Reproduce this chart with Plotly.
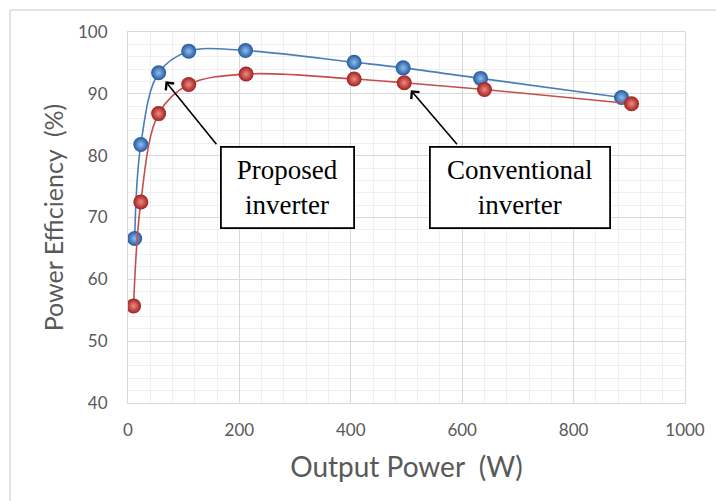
import plotly.graph_objects as go

# Data
proposed_power = [12, 23, 55, 109, 211, 406, 494, 633, 886]
proposed_eff = [66.6, 81.8, 93.4, 96.9, 97.0, 95.1, 94.2, 92.5, 89.4]

conventional_power = [10, 23, 55, 109, 212, 406, 496, 640, 904]
conventional_eff = [55.7, 72.5, 86.8, 91.5, 93.2, 92.4, 91.8, 90.7, 88.4]

x_ticks = [0, 200, 400, 600, 800, 1000]
y_ticks = [40, 50, 60, 70, 80, 90, 100]

label_proposed = "Proposed<br>inverter"
label_conventional = "Conventional<br>inverter"

fig = go.Figure()

fig.add_trace(go.Scatter(
    x=proposed_power, y=proposed_eff, mode="lines+markers", name="Proposed",
    line=dict(color="#4a7ebb", width=1.6, shape="spline", smoothing=1.0),
    marker=dict(size=15, color="#23589e", line=dict(width=0),
                gradient=dict(type="radial", color="#8fbdf0")),
))
fig.add_trace(go.Scatter(
    x=conventional_power, y=conventional_eff, mode="lines+markers", name="Conventional",
    line=dict(color="#c0504d", width=1.6, shape="spline", smoothing=1.0),
    marker=dict(size=15, color="#9e1f1c", line=dict(width=0),
                gradient=dict(type="radial", color="#f08a86")),
))

serif = "Liberation Serif, Times New Roman, serif"

# Arrows pointing at data points
fig.add_annotation(x=proposed_power[2], y=proposed_eff[2], text="", showarrow=True,
                   ax=59, ay=73, arrowhead=4, arrowsize=1.3, arrowwidth=1.6,
                   arrowcolor="#000000", standoff=11)
fig.add_annotation(x=conventional_power[6], y=conventional_eff[6], text="", showarrow=True,
                   ax=54, ay=63, arrowhead=4, arrowsize=1.3, arrowwidth=1.6,
                   arrowcolor="#000000", standoff=10)

# Label boxes
W, H = 557, 371
def px_to_paper(px, py):
    return (px - 128) / W, 1 - (py - 32) / H

bx, by = px_to_paper(287, 187)
fig.add_annotation(x=bx, y=by, xref="paper", yref="paper", text=label_proposed,
                   showarrow=False, font=dict(family=serif, size=27, color="#000000"),
                   bgcolor="#ffffff", bordercolor="#000000", borderwidth=1.8,
                   borderpad=0, width=131, height=79, xanchor="center", yanchor="middle")
bx, by = px_to_paper(519.5, 187)
fig.add_annotation(x=bx, y=by, xref="paper", yref="paper", text=label_conventional,
                   showarrow=False, font=dict(family=serif, size=27, color="#000000"),
                   bgcolor="#ffffff", bordercolor="#000000", borderwidth=1.8,
                   borderpad=0, width=178, height=79, xanchor="center", yanchor="middle")

# Chart-area border (top and left edges)
x0, y0 = px_to_paper(10, 10)
x1, y1 = px_to_paper(716, 501)
fig.add_shape(type="line", xref="paper", yref="paper", x0=x0, y0=y0, x1=x1, y1=y0,
              line=dict(color="#d9d9d9", width=1.5))
fig.add_shape(type="line", xref="paper", yref="paper", x0=x0, y0=y0, x1=x0, y1=y1,
              line=dict(color="#d9d9d9", width=1.5))

tick_font = dict(family="Lato, Open Sans, sans-serif", size=17, color="#595959")
xtitle_font = dict(family="Lato, Open Sans, sans-serif", size=28, color="#595959")
ytitle_font = dict(family="Lato, Open Sans, sans-serif", size=25, color="#595959")

fig.update_xaxes(
    range=[0, 1000], tickvals=x_ticks, ticktext=[str(v) for v in x_ticks],
    showgrid=True, gridcolor="#d9d9d9", gridwidth=1,
    minor=dict(dtick=40, showgrid=True, gridcolor="#efefef", gridwidth=1),
    zeroline=False, showline=True, linecolor="#d9d9d9", mirror=True,
    tickfont=tick_font, ticks="", ticklabelstandoff=12,
    title=dict(text="Output Power\u00a0\u00a0(W)", font=xtitle_font, standoff=17),
)
fig.update_yaxes(
    range=[40, 100], tickvals=y_ticks, ticktext=[str(v) for v in y_ticks],
    showgrid=True, gridcolor="#d9d9d9", gridwidth=1,
    minor=dict(dtick=2, showgrid=True, gridcolor="#efefef", gridwidth=1),
    zeroline=False, showline=True, linecolor="#d9d9d9", mirror=True,
    tickfont=tick_font, ticks="", ticklabelstandoff=16,
    title=dict(text="Power Efficiency\u00a0\u00a0(%)", font=ytitle_font, standoff=7),
)

fig.update_layout(
    width=716, height=501,
    margin=dict(l=128, r=31, t=32, b=98),
    paper_bgcolor="#ffffff", plot_bgcolor="#ffffff",
    showlegend=False,
)

fig.write_html("out.html", config={"displayModeBar": False},
               post_script="document.body.style.margin='0';document.body.style.overflow='hidden';")
